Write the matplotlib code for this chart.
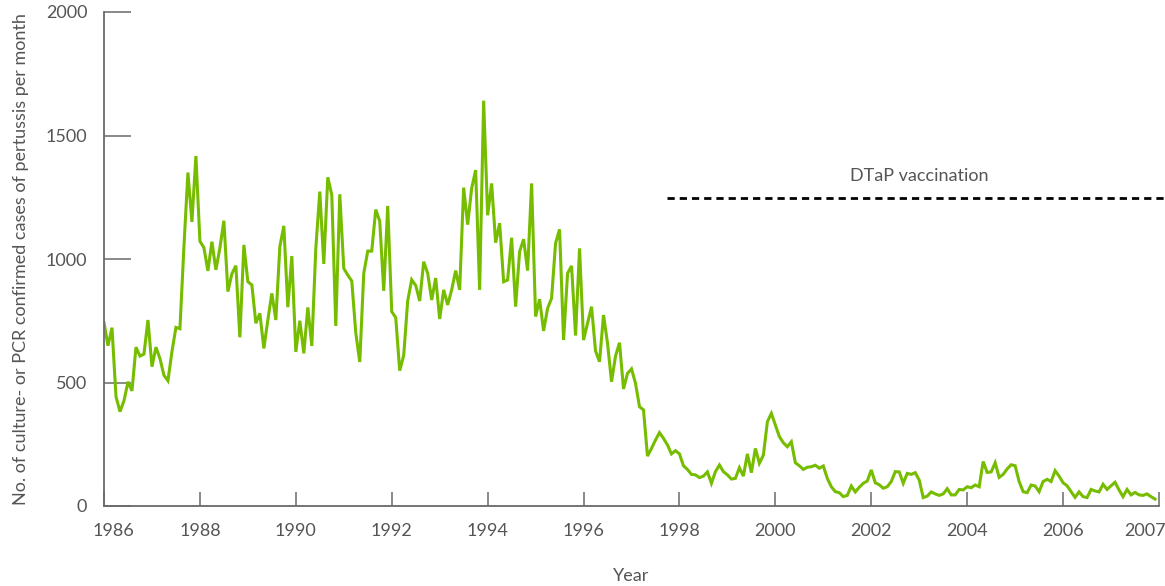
import matplotlib
matplotlib.use("Agg")
import matplotlib.pyplot as plt
import matplotlib.transforms as mtransforms
import numpy as np

# monthly counts, Jan 1986 .. Dec 2007
cases = [
    742, 649, 722, 443, 382, 426, 503, 466, 643, 607, 615, 753,
    564, 643, 597, 529, 507, 625, 723, 718, 1050, 1350, 1150, 1417,
    1072, 1046, 952, 1070, 956, 1045, 1155, 868, 940, 973, 683, 1057,
    908, 895, 740, 780, 638, 753, 861, 753, 1050, 1134, 805, 1012,
    624, 750, 618, 804, 648, 1042, 1273, 980, 1331, 1259, 729, 1262,
    962, 935, 911, 702, 583, 942, 1032, 1032, 1200, 1153, 871, 1215,
    787, 763, 548, 610, 831, 916, 893, 830, 989, 942, 834, 923,
    757, 875, 814, 875, 953, 875, 1289, 1139, 1286, 1360, 875, 1641,
    1177, 1306, 1066, 1145, 908, 915, 1086, 807, 1030, 1080, 953, 1306,
    767, 837, 709, 800, 841, 1064, 1120, 672, 942, 972, 690, 1043,
    672, 740, 807, 628, 584, 773, 659, 503, 607, 661, 474, 537,
    555, 497, 402, 389, 202, 233, 267, 297, 274, 247, 211, 224,
    211, 163, 148, 128, 126, 115, 121, 138, 92, 139, 166, 139,
    126, 109, 112, 155, 121, 211, 135, 233, 173, 206, 341, 375,
    328, 281, 256, 240, 260, 175, 163, 148, 157, 159, 165, 153,
    162, 112, 78, 58, 54, 38, 43, 81, 57, 76, 92, 101,
    146, 94, 86, 72, 78, 99, 139, 138, 92, 132, 128, 135,
    105, 34, 40, 57, 49, 43, 49, 70, 45, 45, 67, 65,
    78, 74, 85, 78, 180, 136, 138, 175, 116, 128, 150, 167,
    163, 99, 58, 54, 85, 81, 58, 99, 108, 99, 143, 121,
    94, 82, 58, 35, 57, 38, 34, 67, 61, 57, 88, 67,
    82, 96, 65, 38, 67, 45, 55, 45, 43, 49, 38, 28,
]
start_year = 1986
tick_years = [1986, 1988, 1990, 1992, 1994, 1996, 1998, 2000, 2002, 2004, 2006, 2008]
tick_labels = ["1986", "1988", "1990", "1992", "1994", "1996", "1998", "2000",
               "2002", "2004", "2006", "2007"]
y_ticks = [0, 500, 1000, 1500, 2000]

dtap_start = 1997.75
dtap_level = 1245

months = start_year + np.arange(len(cases)) / 12.0

plt.rcParams['font.family'] = ['Lato', 'DejaVu Sans']
grey = "#555555"
axis_grey = "#6a6a6a"

fig = plt.figure(figsize=(11.65, 5.86), dpi=100)
ax = fig.add_axes([104 / 1165, 80 / 586, 1055 / 1165, 494 / 586])

ax.plot(months, cases, color="#76bd00", lw=2.2, solid_joinstyle="miter")

# DTaP vaccination marker
ax.plot([dtap_start, 2008.2], [dtap_level, dtap_level], color="black", lw=2,
        linestyle=(0, (2.6, 1.8)), clip_on=False)
ax.text(2003.0, 1338, "DTaP vaccination", ha="center", va="center",
        fontsize=13, color=grey)

ax.set_xlim(1986, 2008)
ax.set_ylim(0, 2000)
ax.set_xticks(tick_years)
ax.set_xticklabels(tick_labels)
ax.set_yticks(y_ticks)

for side in ["top", "right"]:
    ax.spines[side].set_visible(False)
for side in ["left", "bottom"]:
    ax.spines[side].set_color(axis_grey)
    ax.spines[side].set_linewidth(1.3)

ax.tick_params(axis="y", direction="in", length=19.5, width=1.1, color=axis_grey,
               labelsize=13, labelcolor=grey, pad=12)
ax.tick_params(axis="x", direction="in", length=10, width=1.1, color=axis_grey,
               labelsize=13, labelcolor=grey, pad=12)

# nudge the end labels in like the original
labels = ax.get_xticklabels()
labels[0].set_transform(labels[0].get_transform() +
                        mtransforms.ScaledTranslation(0.09, 0, fig.dpi_scale_trans))
labels[-1].set_transform(labels[-1].get_transform() +
                         mtransforms.ScaledTranslation(-0.14, 0, fig.dpi_scale_trans))

ax.set_xlabel("Year", fontsize=13, color=grey, labelpad=21)
ax.set_ylabel("No. of culture- or PCR confirmed cases of pertussis per month",
              fontsize=13, color=grey, labelpad=12)

fig.savefig("out.png", dpi=100)
